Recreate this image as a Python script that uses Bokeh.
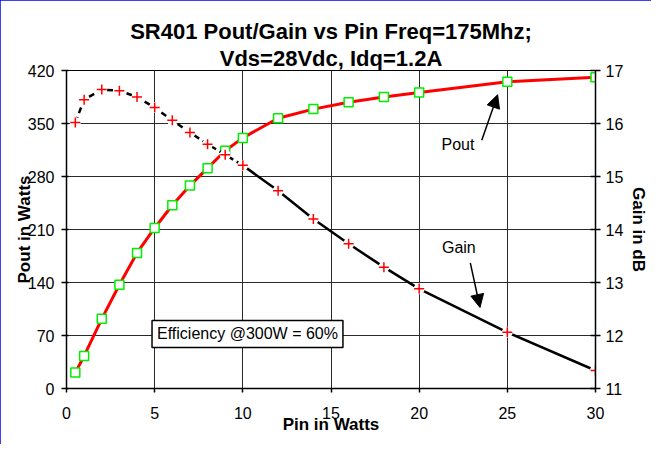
from bokeh.plotting import figure
from bokeh.models import Range1d, LinearAxis, FixedTicker, Label, Arrow, NormalHead, Title
from bokeh.embed import file_html
from bokeh.resources import INLINE

# Data
pin = [0.5, 1, 2, 3, 4, 5, 6, 7, 8, 9, 10, 12, 14, 16, 18, 20, 25, 30]
pout = [21, 43, 92, 137, 179, 212, 242, 268, 291, 314, 331, 357, 369, 378, 385, 391, 405, 411]
gain = [16.02, 16.45, 16.64, 16.62, 16.50, 16.30, 16.06, 15.83, 15.61, 15.41, 15.21,
        14.73, 14.20, 13.73, 13.29, 12.88, 12.06, 11.34]

x_ticks = [0, 5, 10, 15, 20, 25, 30]
pout_ticks = [0, 70, 140, 210, 280, 350, 420]
gain_ticks = [11, 12, 13, 14, 15, 16, 17]

title_lines = ["SR401 Pout/Gain vs Pin Freq=175Mhz;", "Vds=28Vdc, Idq=1.2A"]

FONT = "Liberation Sans"

p = figure(width=651, height=444, output_backend="svg", toolbar_location=None,
           x_range=Range1d(0, 30), y_range=Range1d(0, 420), title_location=None,
           min_border_left=66, min_border_right=52, min_border_top=70, min_border_bottom=56,
           background_fill_color="white", border_fill_color="white")
p.styles = {"outline": "3px solid #0000ff", "outline-offset": "-3px"}

# two centred title lines (second line added first: it sits nearer the frame)
for txt in reversed(title_lines):
    t = Title(text=txt, align="center", text_font=FONT, text_font_size="22px",
              text_font_style="bold", text_color="black", standoff=0, offset=0)
    p.add_layout(t, "above")

p.outline_line_color = "black"
p.outline_line_width = 1

p.extra_y_ranges = {"gain": Range1d(11, 17)}

# grids
p.xgrid.ticker = FixedTicker(ticks=x_ticks)
p.ygrid.ticker = FixedTicker(ticks=pout_ticks)
for g in (p.xgrid, p.ygrid):
    g.grid_line_color = "#2a2a2a"
    g.grid_line_width = 1

# axes
xa = p.xaxis[0]
xa.ticker = FixedTicker(ticks=x_ticks)
xa.axis_label = "Pin in Watts"
xa.axis_label_standoff = -7
xa.major_label_standoff = 14
xa.major_tick_out = 4
xa.major_tick_in = 0
xa.minor_tick_out = 0
xa.minor_tick_in = 0

ya = p.yaxis[0]
ya.ticker = FixedTicker(ticks=pout_ticks)
ya.axis_label = "Pout in Watts"
ya.axis_label_standoff = -9
ya.major_label_standoff = 7
ya.major_tick_out = 5
ya.major_tick_in = 2
ya.minor_tick_out = 0
ya.minor_tick_in = 0

ra = LinearAxis(y_range_name="gain", ticker=FixedTicker(ticks=gain_ticks), axis_label="Gain in dB")
ra.axis_label_standoff = 3
ra.major_label_standoff = 5
ra.major_tick_out = 5
ra.major_tick_in = 5
ra.minor_tick_out = 0
ra.minor_tick_in = 0
p.add_layout(ra, "right")

for ax in (xa, ya, ra):
    ax.axis_line_color = "black"
    ax.axis_line_width = 1.5
    ax.major_tick_line_color = "black"
    ax.major_tick_line_width = 1.5
    ax.major_label_text_font = FONT
    ax.major_label_text_font_size = "16px"
    ax.major_label_text_color = "black"
    ax.axis_label_text_font = FONT
    ax.axis_label_text_font_size = "17px"
    ax.axis_label_text_font_style = "bold"
    ax.axis_label_text_color = "black"

# Pout series
p.line(pin, pout, line_color="#ff0000", line_width=3)
p.scatter(pin, pout, marker="square", size=9, line_color="#00ee00", line_width=1.5,
          fill_color="white")

# Gain series
p.line(pin[:11], gain[:11], y_range_name="gain", line_color="black", line_width=2.5,
       line_dash="6 4")
p.line(pin[10:], gain[10:], y_range_name="gain", line_color="black", line_width=2.5)
p.scatter(pin, gain, y_range_name="gain", marker="circle", size=11, line_color=None,
          fill_color="white")
p.scatter(pin, gain, y_range_name="gain", marker="cross", size=10, line_color="#ff0000",
          line_width=1.5)

# annotations
eff = Label(x=4.85, y=72, text="Efficiency @300W = 60%", text_font=FONT,
            text_font_size="16px", text_baseline="middle", text_color="black",
            border_line_color="black", border_line_width=1.5,
            background_fill_color="white", padding=5)
p.add_layout(eff)

p.add_layout(Label(x=22.2, y=322, text="Pout", text_font=FONT, text_font_size="16px",
                   text_align="center", text_baseline="middle", text_color="black"))
p.add_layout(Label(x=22.25, y=186, text="Gain", text_font=FONT, text_font_size="16px",
                   text_align="center", text_baseline="middle", text_color="black"))

head1 = NormalHead(size=13, fill_color="black", line_color="black")
p.add_layout(Arrow(end=head1, x_start=23.55, y_start=328, x_end=24.45, y_end=388,
                   line_color="black", line_width=1.5))
head2 = NormalHead(size=13, fill_color="black", line_color="black")
p.add_layout(Arrow(end=head2, x_start=22.9, y_start=166, x_end=23.45, y_end=107,
                   line_color="black", line_width=1.5))

open("out.html", "w").write(file_html(p, INLINE))
